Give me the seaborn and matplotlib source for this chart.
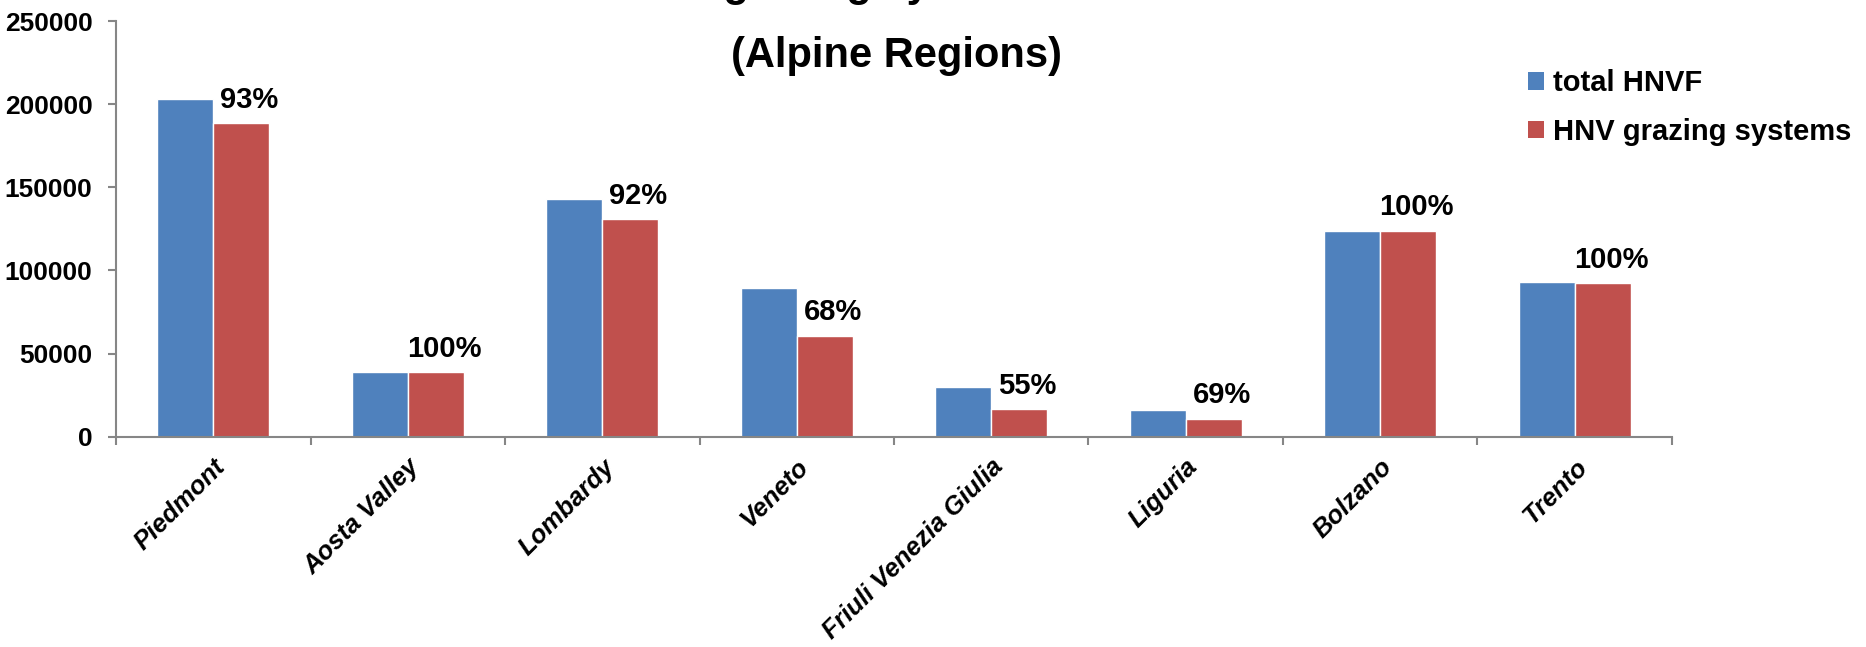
import numpy as np
import pandas as pd
import matplotlib
matplotlib.use("Agg")
import matplotlib.pyplot as plt
import seaborn as sns
from matplotlib.patches import Patch

# Regions and farmland areas (ha)
regions = ["Piedmont", "Aosta Valley", "Lombardy", "Veneto",
           "Friuli Venezia Giulia", "Liguria", "Bolzano", "Trento"]
total_hnvf = [203000, 38700, 142800, 89400, 30070, 15870, 124000, 92800]
hnv_grazing = [188800, 38700, 131000, 60790, 16540, 10950, 124000, 92500]
series_names = ["total HNVF", "HNV grazing systems"]
y_ticks = [0, 50000, 100000, 150000, 200000, 250000]

colors = {"total HNVF": "#4F81BD", "HNV grazing systems": "#C0504D"}

df = pd.DataFrame({
    "region": regions * 2,
    "series": [series_names[0]] * len(regions) + [series_names[1]] * len(regions),
    "area": total_hnvf + hnv_grazing,
})

sns.set_style("white")
plt.rcParams["font.family"] = ["Liberation Sans", "DejaVu Sans"]
plt.rcParams["font.weight"] = "bold"
plt.rcParams["text.color"] = "black"
plt.rcParams["xtick.labelcolor"] = "black"
plt.rcParams["ytick.labelcolor"] = "black"

fig = plt.figure(figsize=(18.66, 6.47), dpi=100)
ax = fig.add_axes([0.0622, 0.325, 0.8338, 0.6425])

sns.barplot(data=df, x="region", y="area", hue="series", order=regions,
            hue_order=series_names, palette=colors, saturation=1,
            width=0.574, errorbar=None, legend=False, ax=ax)

ax.set_xlim(-0.5, len(regions) - 0.5)
ax.set_ylim(0, 250000)
ax.set_yticks(y_ticks)
ax.set_yticklabels([str(v) for v in y_ticks], fontsize=19, fontweight="bold",
                   color="black")
ax.set_xlabel("")
ax.set_ylabel("")

# Category labels at centres, tick marks at category boundaries
ax.set_xticks(range(len(regions)))
ax.set_xticklabels(regions, rotation=45, ha="right", rotation_mode="anchor",
                   fontsize=18.5, fontweight="bold", fontstyle="italic",
                   color="black")
ax.set_xticks(np.arange(len(regions) + 1) - 0.5, minor=True)
ax.tick_params(axis="x", which="major", length=0, pad=13)
ax.tick_params(axis="x", which="minor", length=6, width=1.5, color="#868686",
               direction="out", bottom=True)
ax.tick_params(axis="y", length=6, width=1.5, color="#868686", direction="out",
               left=True, pad=11)

for side in ["top", "right"]:
    ax.spines[side].set_visible(False)
for side in ["left", "bottom"]:
    ax.spines[side].set_color("#868686")
    ax.spines[side].set_linewidth(1.5)

# Share of HNV grazing systems in total HNVF, above the red bars
dodge = 0.574 / 4
for i, (t, g) in enumerate(zip(total_hnvf, hnv_grazing)):
    pct = round(100 * g / t)
    ax.annotate(f"{pct}%", xy=(i + dodge, g), xytext=(6, 11),
                textcoords="offset points", ha="center", va="baseline",
                fontsize=21, fontweight="bold", color="black")

# Title (first line runs past the top edge)
fig.text(0.4485, 1.006, "HNV grazing systems", ha="center", va="baseline",
         fontsize=30, fontweight="bold", color="black")
fig.text(0.4807, 0.897, "(Alpine Regions)", ha="center", va="baseline",
         fontsize=30, fontweight="bold", color="black")

handles = [Patch(facecolor=colors[s], edgecolor="none") for s in series_names]
fig.legend(handles, series_names, loc="upper left",
           bbox_to_anchor=(0.819, 0.893), frameon=False,
           prop={"size": 21, "weight": "bold"}, labelcolor="black",
           handlelength=0.55, handleheight=0.55, handletextpad=0.3,
           labelspacing=0.7, borderpad=0, borderaxespad=0)

fig.savefig("out.png", dpi=100)
